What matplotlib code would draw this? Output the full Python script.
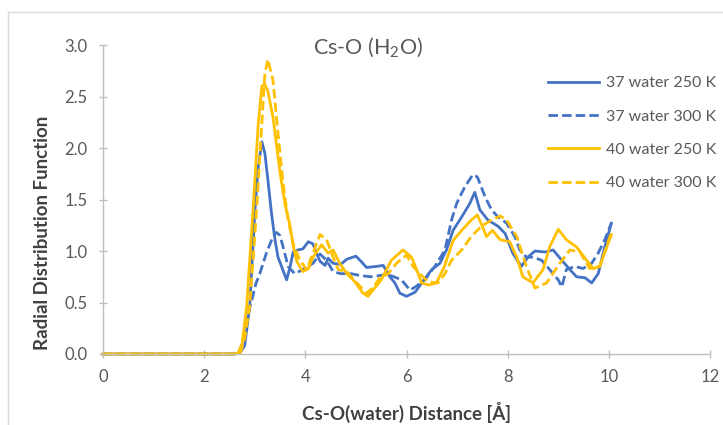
import matplotlib
matplotlib.use('Agg')
import matplotlib.pyplot as plt
from matplotlib.lines import Line2D

plt.rcParams['font.family'] = ['Lato', 'DejaVu Sans']

# Cs-O radial distribution functions, distance in angstrom
x_37_250 = [0, 2.6, 2.7, 2.8, 2.9, 3.0, 3.07, 3.14, 3.2, 3.26, 3.33, 3.4, 3.46, 3.53, 3.63, 3.7,
            3.76, 3.85, 3.95, 4.06, 4.15, 4.22, 4.29, 4.39, 4.45, 4.55, 4.7, 4.82, 5.0, 5.1, 5.21,
            5.4, 5.54, 5.67, 5.77, 5.87, 6.0, 6.17, 6.3, 6.5, 6.66, 6.79, 6.92, 7.09, 7.25, 7.35,
            7.45, 7.61, 7.81, 7.95, 8.1, 8.27, 8.4, 8.54, 8.74, 8.9, 9.07, 9.23, 9.36, 9.53, 9.66,
            9.79, 9.92, 10.05]
g_37_250 = [0, 0, 0.01, 0.08, 0.46, 1.37, 1.82, 2.06, 1.95, 1.69, 1.37, 1.11, 0.94, 0.85, 0.72, 0.85,
            0.99, 1.01, 1.02, 1.09, 1.07, 0.98, 0.9, 0.86, 0.93, 0.88, 0.87, 0.92, 0.95, 0.9, 0.84,
            0.85, 0.86, 0.75, 0.69, 0.59, 0.56, 0.6, 0.69, 0.82, 0.88, 1.01, 1.2, 1.33, 1.46, 1.57,
            1.4, 1.3, 1.24, 1.17, 0.98, 0.85, 0.94, 1.0, 0.99, 1.01, 0.91, 0.82, 0.75, 0.74, 0.69,
            0.78, 1.04, 1.27]

x_37_300 = [0, 2.65, 2.7, 2.77, 2.85, 2.94, 3.02, 3.1, 3.23, 3.36, 3.43, 3.5, 3.56, 3.66, 3.79, 3.95,
            4.15, 4.29, 4.42, 4.55, 4.7, 4.9, 5.1, 5.3, 5.45, 5.57, 5.7, 5.9, 6.07, 6.2, 6.36, 6.56,
            6.76, 6.89, 6.99, 7.15, 7.31, 7.4, 7.55, 7.68, 7.81, 7.98, 8.14, 8.24, 8.37, 8.5, 8.67,
            8.83, 9.0, 9.07, 9.16, 9.33, 9.49, 9.66, 9.79, 9.92, 10.05]
g_37_300 = [0, 0, 0.02, 0.14, 0.35, 0.52, 0.68, 0.78, 0.98, 1.14, 1.18, 1.15, 1.04, 0.85, 0.78, 0.82,
            0.88, 0.97, 0.91, 0.8, 0.78, 0.78, 0.76, 0.75, 0.76, 0.77, 0.76, 0.72, 0.62, 0.66, 0.72, 0.85,
            1.01, 1.3, 1.46, 1.62, 1.74, 1.72, 1.53, 1.4, 1.33, 1.27, 1.14, 1.01, 0.94, 0.94, 0.91,
            0.82, 0.72, 0.65, 0.82, 0.85, 0.83, 0.88, 0.98, 1.11, 1.27]

x_40_250 = [0, 2.6, 2.67, 2.75, 2.84, 2.97, 3.07, 3.14, 3.2, 3.26, 3.36, 3.5, 3.6, 3.7, 3.76, 3.83,
            3.95, 4.06, 4.15, 4.32, 4.45, 4.55, 4.68, 4.82, 4.98, 5.14, 5.24, 5.37, 5.5, 5.7, 5.93,
            6.1, 6.2, 6.3, 6.43, 6.59, 6.75, 6.92, 7.09, 7.28, 7.4, 7.5, 7.58, 7.7, 7.85, 8.04, 8.18,
            8.3, 8.5, 8.7, 8.83, 9.0, 9.16, 9.36, 9.56, 9.69, 9.82, 10.05]
g_40_250 = [0, 0, 0.01, 0.1, 0.46, 1.43, 2.24, 2.6, 2.62, 2.55, 2.3, 1.76, 1.45, 1.24, 1.05, 0.9,
            0.8, 0.83, 0.94, 1.06, 0.98, 1.01, 0.88, 0.78, 0.7, 0.59, 0.56, 0.64, 0.72, 0.91, 1.01,
            0.94, 0.82, 0.69, 0.67, 0.69, 0.85, 1.1, 1.2, 1.3, 1.35, 1.24, 1.14, 1.2, 1.11, 1.09, 0.94,
            0.75, 0.69, 0.82, 1.04, 1.21, 1.11, 1.04, 0.91, 0.83, 0.85, 1.16]

x_40_300 = [0, 2.65, 2.72, 2.8, 2.9, 3.04, 3.14, 3.2, 3.26, 3.36, 3.46, 3.56, 3.66, 3.76, 3.89, 4.03,
            4.15, 4.29, 4.42, 4.55, 4.65, 4.82, 5.0, 5.21, 5.35, 5.47, 5.64, 5.8, 6.0, 6.13, 6.26,
            6.43, 6.62, 6.76, 6.89, 7.09, 7.28, 7.48, 7.68, 7.85, 7.98, 8.18, 8.37, 8.54, 8.77, 9.03,
            9.23, 9.43, 9.62, 9.82, 10.05]
g_40_300 = [0, 0, 0.02, 0.15, 0.46, 1.43, 2.24, 2.72, 2.86, 2.66, 2.14, 1.66, 1.3, 1.07, 0.91, 0.82,
            0.98, 1.16, 1.11, 0.94, 0.82, 0.8, 0.7, 0.59, 0.65, 0.74, 0.78, 0.88, 0.96, 0.85, 0.78,
            0.7, 0.69, 0.78, 0.91, 1.01, 1.14, 1.24, 1.3, 1.34, 1.3, 1.14, 0.85, 0.64, 0.69, 0.88,
            1.01, 0.99, 0.83, 0.85, 1.18]

labels = ['37 water 250 K', '37 water 300 K', '40 water 250 K', '40 water 300 K']
x_ticks = [0, 2, 4, 6, 8, 10, 12]
y_ticks = [0.0, 0.5, 1.0, 1.5, 2.0, 2.5, 3.0]

blue = '#4472C4'
gold = '#FFC000'
grey_axis = '#BFBFBF'
grey_text = '#595959'
dash = (3.4, 1.5)

fig = plt.figure(figsize=(7.23, 4.25), dpi=100)
ax = fig.add_axes([103 / 723, 71 / 425, 607 / 723, 309 / 425])

series = [(x_37_250, g_37_250, blue, '-'),
          (x_37_300, g_37_300, blue, '--'),
          (x_40_250, g_40_250, gold, '-'),
          (x_40_300, g_40_300, gold, '--')]
for (xs, ys, c, ls), lab in zip(series, labels):
    line, = ax.plot(xs, ys, color=c, lw=2, ls=ls, label=lab, clip_on=False,
                    solid_joinstyle='round', dash_capstyle='butt')
    if ls == '--':
        line.set_dashes(dash)

ax.set_xlim(0, 12)
ax.set_ylim(0, 3)
ax.set_xticks(x_ticks)
ax.set_yticks(y_ticks)
ax.set_yticklabels([f'{v:.1f}' for v in y_ticks])

for s in ['top', 'right']:
    ax.spines[s].set_visible(False)
for s in ['left', 'bottom']:
    ax.spines[s].set_color(grey_axis)
    ax.spines[s].set_linewidth(1)
ax.tick_params(axis='both', direction='inout', length=6, width=1, color=grey_axis,
               labelcolor=grey_text, labelsize=12)
ax.tick_params(axis='y', pad=8)
ax.tick_params(axis='x', pad=8)

ax.set_xlabel('Cs-O(water) Distance [Å]', fontsize=13.5, fontweight='bold',
              color='#404040', labelpad=12)
ax.set_ylabel('Radial Distribution Function', fontsize=13.5, fontweight='bold',
              color='#404040')
ax.yaxis.set_label_coords(-52 / 607, 0.393)

fig.text(368 / 723, 1 - 47 / 425, 'Cs-O (H$\\mathregular{_2}$O)', fontsize=15.5,
         color=grey_text, ha='center', va='center')

leg = ax.legend(loc='upper left', bbox_to_anchor=(548 / 723, 1 - 76 / 425),
                bbox_transform=fig.transFigure, frameon=False, fontsize=11.5,
                handlelength=3.2, handletextpad=0.45, labelspacing=1.2,
                borderpad=0, borderaxespad=0)
for t in leg.get_texts():
    t.set_color(grey_text)

# chart area outline
fig.add_artist(Line2D([8 / 723, 8 / 723], [0, 1 - 12 / 425], transform=fig.transFigure,
                      color='#D9D9D9', lw=1))
fig.add_artist(Line2D([8 / 723, 1], [1 - 12 / 425, 1 - 12 / 425], transform=fig.transFigure,
                      color='#D9D9D9', lw=1))

fig.savefig('out.png', dpi=100)
